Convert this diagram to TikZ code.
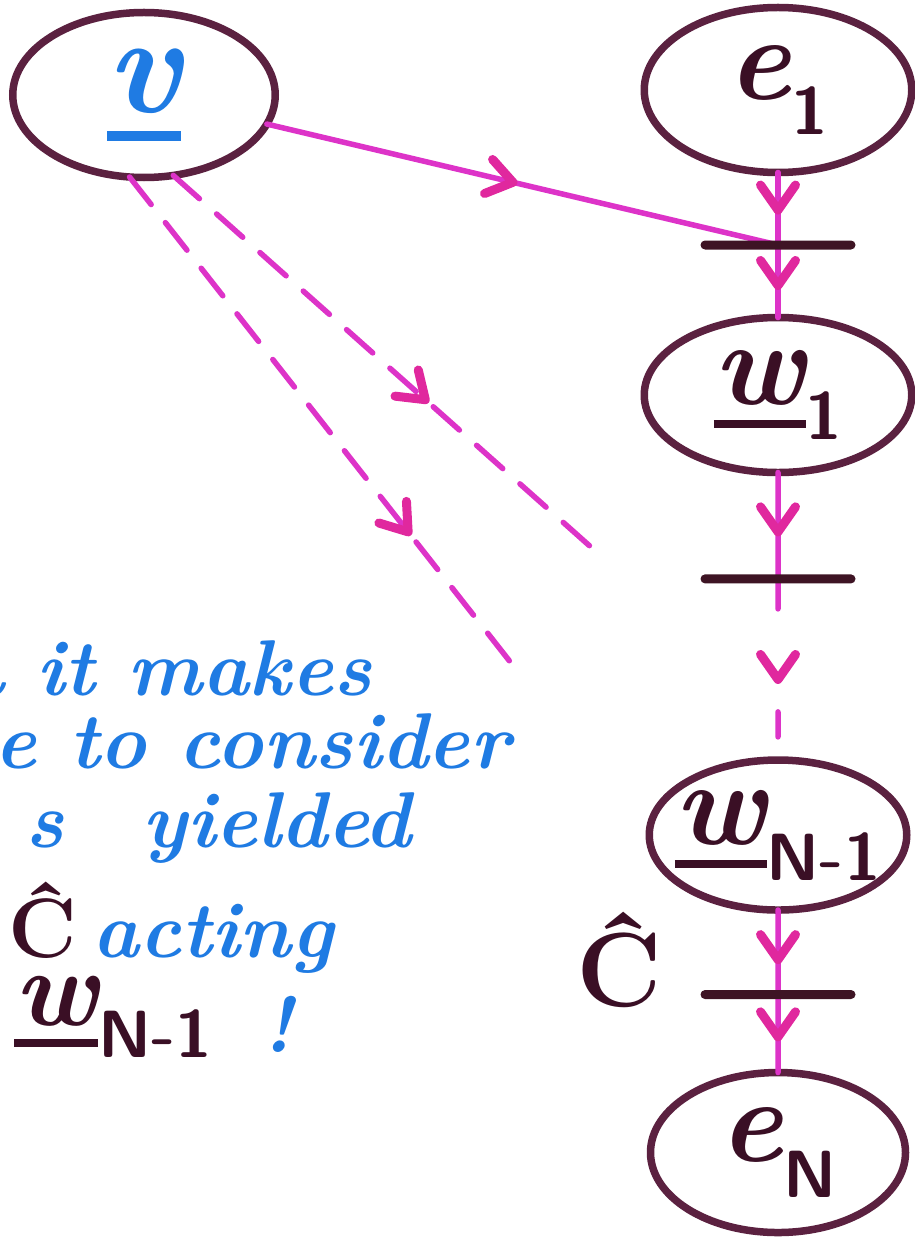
\documentclass[tikz,border=0pt]{standalone}
\usepackage{fontspec}
\usepackage{xcolor}
\definecolor{rim}{HTML}{5B2140}
\definecolor{barc}{HTML}{3E1424}
\definecolor{ink}{HTML}{1F7BE3}
\definecolor{mag}{HTML}{DD33C8}
\definecolor{headc}{HTML}{E0289E}
\definecolor{lbl}{HTML}{3A0F25}
\usepackage{tikz}
\usetikzlibrary{arrows.meta,positioning,calc,shapes.geometric,decorations.markings}
\newcommand{\ubar}[1]{\setbox0=\hbox{#1}\rlap{\rule[-0.2em]{\wd0}{0.07em}}\box0}
\newcommand{\sub}[1]{\raisebox{-0.3em}{\fontsize{38}{38}\selectfont\upshape\sffamily\bfseries #1}}
\tikzset{vhead/.tip={Straight Barb[length=5mm,width=7mm,line width=1.8mm,round]}}

\begin{document}
\begin{tikzpicture}[
  x=0.2mm,y=-0.2mm,
  ovalnode/.style={ellipse,draw=rim,line width=1.5mm,fill=white,inner sep=0pt,outer sep=0pt,
    text=lbl,font=\fontsize{68}{68}\selectfont\bfseries\itshape},
  bar/.style={rectangle,fill=barc,minimum width=31mm,minimum height=1.8mm,inner sep=0pt,
    rounded corners=0.9mm},
  midarrow/.style={postaction={decorate,decoration={markings,
    mark=at position #1 with {\arrow[headc,solid]{vhead}}}}},
  flow/.style={mag,line width=1.1mm,line cap=round},
  broken/.style={dash pattern=on 7mm off 4.6mm},
  gapped/.style={dash pattern=on 6mm off 20.6mm on 5mm off 10mm},
  note/.style={text=ink,inner sep=0pt,font=\fontsize{45}{47}\selectfont\bfseries\itshape},
  opname/.style={text=lbl,inner sep=0pt,font=\fontsize{60}{60}\selectfont\bfseries}]
\useasboundingbox (0,0) rectangle (915,1243);
\fill[white] (0,0) rectangle (915,1243);

\node[ovalnode,minimum width=52.5mm,minimum height=33mm,font=\fontsize{80}{80}\selectfont\bfseries\itshape] (v) at (144,95) {\color{ink}\ubar{v}};
\node[ovalnode,minimum width=53.5mm,minimum height=33mm] (c1) at (778,90) {e\sub{1}};
\node[ovalnode,minimum width=53.5mm,minimum height=31mm,below=29mm of c1] (w1) {\ubar{w}\sub{1}};
\node[ovalnode,minimum width=51.5mm,minimum height=30mm,inner xsep=-3.5mm,below=57.5mm of w1] (wN1) {\ubar{w}\sub{N-1}};
\node[ovalnode,minimum width=51mm,minimum height=32mm,below=32.5mm of wN1] (eN) {e\sub{N}};

\coordinate (j1) at ($(c1.south)!0.5!(w1.north)$);
\coordinate (j2) at ($(w1.south)!0.37!(wN1.north)$);
\coordinate (j3) at ($(wN1.south)!0.52!(eN.north)$);
\coordinate (endA) at (592,548);
\coordinate (endB) at (515,668);

\draw[flow,midarrow=0.58] (c1) -- (j1);
\draw[flow,midarrow=0.62] (j1) -- (w1);
\draw[flow,midarrow=0.49] (v) -- (j1);
\draw[flow,midarrow=0.6] (w1) -- (j2);
\draw[flow,gapped,midarrow=0.58] (j2) -- (wN1);
\draw[flow,midarrow=0.64] (wN1) -- (j3);
\draw[flow,midarrow=0.6] (j3) -- (eN);
\draw[flow,broken,midarrow=0.61] (v.-70) -- (endA);
\draw[flow,broken,midarrow=0.73] (v.-100) -- (endB);

\node[bar] (bar1) at (j1) {};
\node[bar] (bar2) at (j2) {};
\node[bar] (bar3) at (j3) {};
\node[opname,left=7.5mm of bar3,yshift=7mm] (chat) {Ĉ};

\node[note,anchor=base east] (l1) at (372,695) {n it makes};
\node[note,anchor=base east] (l2) at (510,768) {e to consider};
\node[note,anchor=base east] (l3) at (412,847) {s\hspace{1.0em}yielded};
\node[note,text=lbl,anchor=base west,font=\fontsize{48}{48}\selectfont\bfseries] (l4op) at (8,957) {Ĉ};
\node[note,anchor=base west] (l4) at (92,957) {acting};
\node[note,text=lbl,anchor=base west,font=\fontsize{62}{62}\selectfont\bfseries\itshape] (l5w) at (14,1025) {\ubar{w}\sub{N-1}};
\node[note,anchor=base west] (l5x) at (262,1052) {!};
\end{tikzpicture}
\end{document}
